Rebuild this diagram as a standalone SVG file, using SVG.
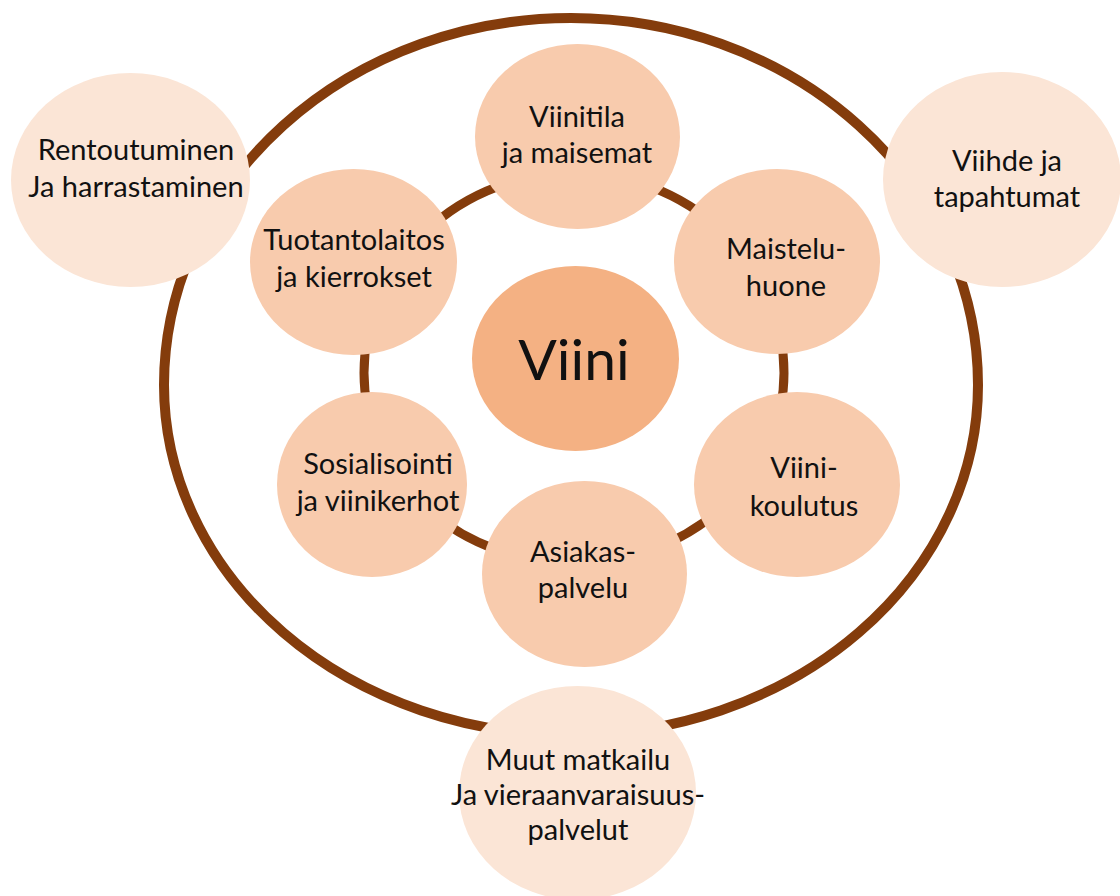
<svg xmlns="http://www.w3.org/2000/svg" width="1120" height="896" viewBox="0 0 1120 896">
  <style>
    .ring { fill: none; stroke: #843C0C; }
    .core { fill: #F4B183; }
    .inner { fill: #F8CBAD; }
    .outer { fill: #FBE5D6; }
    text { font-family: Lato, "Liberation Sans", sans-serif; fill: #111; text-anchor: middle; }
    .lbl { font-size: 29px; }
    .big { font-size: 57px; }
  </style>
  <rect width="1120" height="896" fill="#ffffff"/>

  <!-- rings linking the services -->
  <g id="connectors">
    <path class="ring" stroke-width="10" d="M 164 385 A 407 367 0 0 1 978 385 A 407 350 0 0 1 164 385 Z"/>
    <path class="ring" stroke-width="9" d="M 364 373 A 210 200 0 0 1 784 373 A 210 190 0 0 1 364 373 Z"/>
  </g>

  <!-- centre -->
  <g id="viini">
    <ellipse class="core" cx="575.5" cy="358.5" rx="103.5" ry="92.5"/>
    <text class="big" x="574" y="380">Viini</text>
  </g>

  <!-- inner ring -->
  <g id="viinitila">
    <ellipse class="inner" cx="577.5" cy="136.5" rx="102.5" ry="92.5"/>
    <text class="lbl" x="577" y="127">Viinitila</text>
    <text class="lbl" x="577" y="163">ja maisemat</text>
  </g>
  <g id="tuotantolaitos">
    <ellipse class="inner" cx="353.5" cy="262" rx="103.5" ry="93"/>
    <text class="lbl" x="354" y="250">Tuotantolaitos</text>
    <text class="lbl" x="354" y="287">ja kierrokset</text>
  </g>
  <g id="maisteluhuone">
    <ellipse class="inner" cx="777" cy="261.5" rx="103" ry="92.5"/>
    <text class="lbl" x="786" y="259">Maistelu-</text>
    <text class="lbl" x="786" y="296">huone</text>
  </g>
  <g id="sosialisointi">
    <ellipse class="inner" cx="372" cy="484.5" rx="95" ry="92.5"/>
    <text class="lbl" x="378" y="474">Sosialisointi</text>
    <text class="lbl" x="378" y="511">ja viinikerhot</text>
  </g>
  <g id="viinikoulutus">
    <ellipse class="inner" cx="797" cy="484.5" rx="103" ry="92.5"/>
    <text class="lbl" x="804" y="478">Viini-</text>
    <text class="lbl" x="804" y="516">koulutus</text>
  </g>
  <g id="asiakaspalvelu">
    <ellipse class="inner" cx="584.5" cy="574" rx="102.5" ry="93"/>
    <text class="lbl" x="583" y="562">Asiakas-</text>
    <text class="lbl" x="583" y="598">palvelu</text>
  </g>

  <!-- outer ring -->
  <g id="rentoutuminen">
    <ellipse class="outer" cx="130.5" cy="180" rx="119.5" ry="107"/>
    <text class="lbl" x="136" y="160">Rentoutuminen</text>
    <text class="lbl" x="136" y="197">Ja harrastaminen</text>
  </g>
  <g id="viihde">
    <ellipse class="outer" cx="1002" cy="179.5" rx="119" ry="107.5"/>
    <text class="lbl" x="1007" y="171">Viihde ja</text>
    <text class="lbl" x="1007" y="207">tapahtumat</text>
  </g>
  <g id="matkailu">
    <ellipse class="outer" cx="577.5" cy="793" rx="118.5" ry="107"/>
    <text class="lbl" x="578" y="770">Muut matkailu</text>
    <text class="lbl" x="578" y="805">Ja vieraanvaraisuus-</text>
    <text class="lbl" x="578" y="840">palvelut</text>
  </g>
</svg>
